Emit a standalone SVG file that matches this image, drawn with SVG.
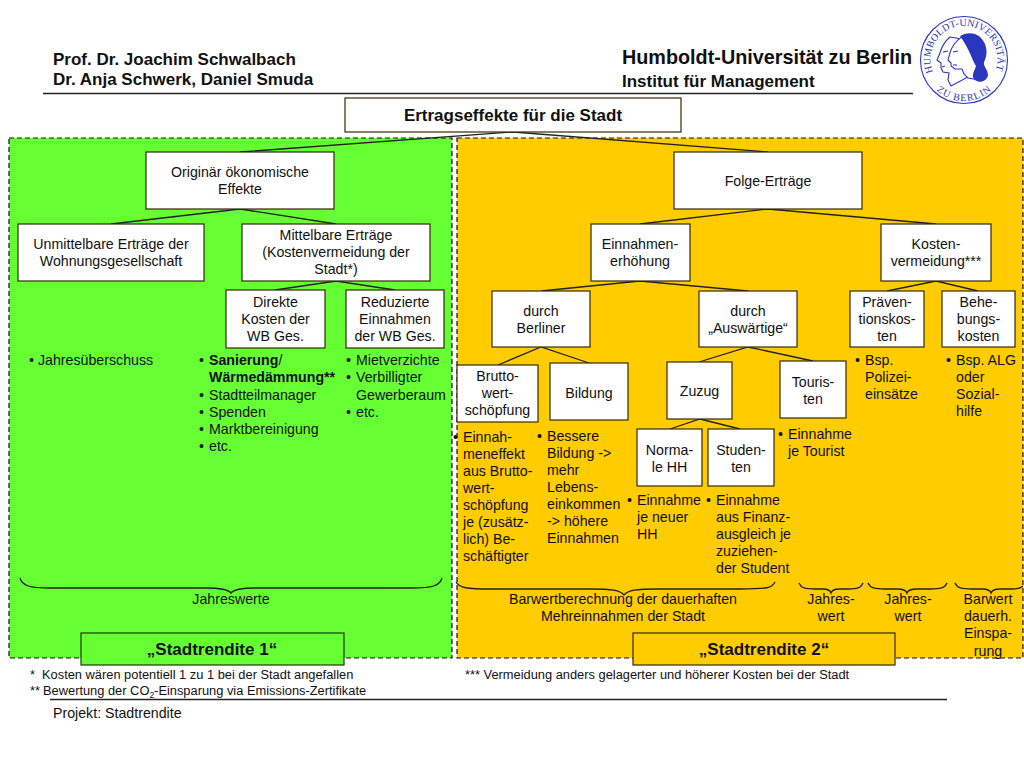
<svg xmlns="http://www.w3.org/2000/svg" width="1024" height="768" viewBox="0 0 1024 768">
<style>
text{font-family:"Liberation Sans",Arial,sans-serif;font-size:14.2px;fill:#111}
.c{text-anchor:middle}
.b{font-weight:bold}
.h{font-weight:bold;font-size:17px}
.s{font-size:12.85px}
.box{fill:#fff;stroke:#332a00;stroke-width:1.2}
.panel{stroke:#111;stroke-width:1.2;stroke-dasharray:5 3}
.ln{fill:none;stroke:#222;stroke-width:1.3}
.seal{fill:#2a35c0;font-family:"Liberation Serif",serif;font-size:10px;letter-spacing:.2px}
.sl{fill:none;stroke:#2a35c0;stroke-width:1.1}
.hd{fill:#fff;stroke:#2a35c0;stroke-width:1.1}
</style>
<rect width="1024" height="768" fill="#fff"/>
<rect id="panel-green" class="panel" x="9" y="138" width="443" height="520" fill="#66ff33"/>
<rect id="panel-orange" class="panel" x="457" y="138" width="566" height="520" fill="#ffcc00"/>
<g id="header">
<text class="b" x="53" y="65" style="font-size:17px">Prof. Dr. Joachim Schwalbach</text>
<text class="b" x="53" y="85" style="font-size:17px">Dr. Anja Schwerk, Daniel Smuda</text>
<text class="b" x="622" y="64" style="font-size:19.8px">Humboldt-Universität zu Berlin</text>
<text class="b" x="622" y="87" style="font-size:17px">Institut für Management</text>
<path class="ln" d="M43 93.500H913"/>
</g>
<g id="seal">
<defs><path id="sealArc" d="M933 72A33.500 33.500 0 1 1 995 72"/><path id="sealArc2" d="M935 89A41 41 0 0 0 993 89"/></defs>
<circle class="sl" cx="964" cy="60" r="43.500"/>
<text class="seal"><textPath href="#sealArc">HUMBOLDT-UNIVERSITÄT</textPath></text>
<text class="seal" style="letter-spacing:1px"><textPath href="#sealArc2" startOffset="2">ZU BERLIN</textPath></text>
<path class="hd" d="M950 37C945 41 941 48 940 53L937 60L941 63L941 68L943 72L949 73L948 80L951 86L968 77L968 40Z"/>
<path class="hd" d="M962 37C956 40 951 48 950 53L948 60L951 63L951 66L955 69L962 69L964 74L968 78L980 80L978 50Z"/>
<path d="M960 36C968 31 980 32 985 44C988 52 986 58 984 62C983 66 988 70 988 75C987 82 978 84 974 79C971 75 975 70 976 66C972 60 970 50 960 36Z" fill="#2a35c0"/>
<path class="sl" d="M943 52L948 51M953 52L958 51M942 67L945 66M953 65L957 65M978 40L982 52M976 70L984 76"/>
</g>
<g id="connectors" class="ln">
<path d="M240 152L513 132L768 152"/>
<path d="M111 224L240 209L336 224"/>
<path d="M640 224L768 209L936 224"/>
<path d="M275 290L336 281L395 290"/>
<path d="M541 291L640 281L748 291"/>
<path d="M887 291L936 281L978 291"/>
<path d="M498 365L541 347L589 363"/>
<path d="M699 362L748 347L813 361"/>
<path d="M670 429L700 419L740 429"/>
<path d="M20 578C22 586 30 588 50 588H205C220 588 228 589 231 593C234 589 242 588 257 588H412C432 588 440 586 442 578"/>
<path d="M456 582C459 588 468 589 490 589H590C612 589 620 590 624 595C628 590 636 589 658 589H740C768 589 772 588 775 582"/>
<path d="M799 583C801 588 805 589 815 589H823C828 589 830 590 831 593C832 590 834 589 839 589H848C857 589 861 588 863 583"/>
<path d="M868 583C870 588 875 589 885 589H897C903 589 906 590 907 593C908 590 911 589 917 589H930C940 589 945 588 947 583"/>
<path d="M955 583C957 588 962 589 972 589H982C987 589 990 590 991 593C992 590 995 589 1000 589H1012C1018 589 1021 588 1023 586"/>
</g>
<g id="n-title"><rect class="box" x="345" y="98" width="336" height="34"/><text class="c h" x="513" y="121">Ertragseffekte für die Stadt</text></g>
<g id="n-originaer"><rect class="box" x="146" y="152" width="188" height="57"/><text class="c" x="240" y="177">Originär ökonomische</text><text class="c" x="240" y="194">Effekte</text></g>
<g id="n-folge"><rect class="box" x="674" y="152" width="188" height="57"/><text class="c" x="768" y="186">Folge-Erträge</text></g>
<g id="n-unmittelbar"><rect class="box" x="18" y="224" width="186" height="57"/><text class="c" x="111" y="249">Unmittelbare Erträge der</text><text class="c" x="111" y="266">Wohnungsgesellschaft</text></g>
<g id="n-mittelbar"><rect class="box" x="242" y="224" width="188" height="57"/><text class="c" x="336" y="240">Mittelbare Erträge</text><text class="c" x="336" y="257">(Kostenvermeidung der</text><text class="c" x="336" y="274">Stadt*)</text></g>
<g id="n-einnahmen"><rect class="box" x="591" y="224" width="99" height="57"/><text class="c" x="640" y="249">Einnahmen-</text><text class="c" x="640" y="266">erhöhung</text></g>
<g id="n-kosten"><rect class="box" x="881" y="224" width="110" height="57"/><text class="c" x="936" y="249">Kosten-</text><text class="c" x="936" y="266">vermeidung***</text></g>
<g id="n-direkte"><rect class="box" x="226" y="290" width="99" height="58"/><text class="c" x="275.500" y="307">Direkte</text><text class="c" x="275.500" y="324">Kosten der</text><text class="c" x="275.500" y="341">WB Ges.</text></g>
<g id="n-reduzierte"><rect class="box" x="346" y="290" width="98" height="58"/><text class="c" x="395" y="307">Reduzierte</text><text class="c" x="395" y="324">Einnahmen</text><text class="c" x="395" y="341">der WB Ges.</text></g>
<g id="n-berliner"><rect class="box" x="492" y="291" width="98" height="56"/><text class="c" x="541" y="316">durch</text><text class="c" x="541" y="333">Berliner</text></g>
<g id="n-auswaertige"><rect class="box" x="699" y="291" width="98" height="56"/><text class="c" x="748" y="316">durch</text><text class="c" x="748" y="333">„Auswärtige“</text></g>
<g id="n-praevention"><rect class="box" x="850" y="291" width="74" height="56"/><text class="c" x="887" y="307">Präven-</text><text class="c" x="887" y="324">tionskos-</text><text class="c" x="887" y="341">ten</text></g>
<g id="n-behebung"><rect class="box" x="942" y="291" width="73" height="56"/><text class="c" x="978.500" y="307">Behe-</text><text class="c" x="978.500" y="324">bungs-</text><text class="c" x="978.500" y="341">kosten</text></g>
<g id="n-brutto"><rect class="box" x="457" y="365" width="81" height="57"/><text class="c" x="497.500" y="381">Brutto-</text><text class="c" x="497.500" y="398">wert-</text><text class="c" x="497.500" y="415">schöpfung</text></g>
<g id="n-bildung"><rect class="box" x="550" y="363" width="78" height="57"/><text class="c" x="589" y="398">Bildung</text></g>
<g id="n-zuzug"><rect class="box" x="667" y="362" width="65" height="57"/><text class="c" x="699.500" y="396">Zuzug</text></g>
<g id="n-touristen"><rect class="box" x="780" y="361" width="66" height="57"/><text class="c" x="813" y="387">Touris-</text><text class="c" x="813" y="404">ten</text></g>
<g id="n-normale"><rect class="box" x="637" y="429" width="65" height="57"/><text class="c" x="669.500" y="455">Norma-</text><text class="c" x="669.500" y="472">le HH</text></g>
<g id="n-studenten"><rect class="box" x="708" y="429" width="66" height="57"/><text class="c" x="741" y="455">Studen-</text><text class="c" x="741" y="472">ten</text></g>
<g id="lists">
<text x="29" y="365">•</text><text x="38" y="365">Jahresüberschuss</text>
<text x="199" y="365">•</text><text class="b" x="209" y="365">Sanierung<tspan font-weight="normal">/</tspan></text>
<text class="b" x="209" y="382">Wärmedämmung**</text>
<text x="199" y="400">•</text><text x="209" y="400">Stadtteilmanager</text>
<text x="199" y="417">•</text><text x="209" y="417">Spenden</text>
<text x="199" y="434">•</text><text x="209" y="434">Marktbereinigung</text>
<text x="199" y="451">•</text><text x="209" y="451">etc.</text>
<text x="346" y="365">•</text><text x="356" y="365">Mietverzichte</text>
<text x="346" y="382">•</text><text x="356" y="382">Verbilligter</text>
<text x="356" y="400">Gewerberaum</text>
<text x="346" y="417">•</text><text x="356" y="417">etc.</text>
<text x="855" y="365">•</text><text x="865" y="365">Bsp.</text><text x="865" y="382">Polizei-</text><text x="865" y="399">einsätze</text>
<text x="946" y="365">•</text><text x="956" y="365">Bsp. ALG</text><text x="956" y="382">oder</text><text x="956" y="399">Sozial-</text><text x="956" y="416">hilfe</text>
<text x="453" y="442">•</text><text x="463" y="442">Einnah-</text><text x="463" y="459">meneffekt</text><text x="463" y="476">aus Brutto-</text><text x="463" y="493">wert-</text><text x="463" y="510">schöpfung</text><text x="463" y="527">je (zusätz-</text><text x="463" y="544">lich) Be-</text><text x="463" y="561">schäftigter</text>
<text x="537" y="441">•</text><text x="547" y="441">Bessere</text><text x="547" y="458">Bildung -&gt;</text><text x="547" y="475">mehr</text><text x="547" y="492">Lebens-</text><text x="547" y="509">einkommen</text><text x="547" y="526">-&gt; höhere</text><text x="547" y="543">Einnahmen</text>
<text x="778" y="439">•</text><text x="788" y="439">Einnahme</text><text x="788" y="456">je Tourist</text>
<text x="627" y="505">•</text><text x="637" y="505">Einnahme</text><text x="637" y="522">je neuer</text><text x="637" y="539">HH</text>
<text x="706" y="505">•</text><text x="716" y="505">Einnahme</text><text x="716" y="522">aus Finanz-</text><text x="716" y="539">ausgleich je</text><text x="716" y="556">zuziehen-</text><text x="716" y="573">der Student</text>
</g>
<g id="brace-labels">
<text class="c" x="231" y="604">Jahreswerte</text>
<text class="c" x="623" y="604">Barwertberechnung der dauerhaften</text><text class="c" x="623" y="621">Mehreinnahmen der Stadt</text>
<text class="c" x="831" y="604">Jahres-</text><text class="c" x="831" y="621">wert</text>
<text class="c" x="908" y="604">Jahres-</text><text class="c" x="908" y="621">wert</text>
<text class="c" x="988" y="604">Barwert</text><text class="c" x="988" y="621">dauerh.</text><text class="c" x="988" y="638">Einspa-</text><text class="c" x="988" y="656">rung</text>
</g>
<g id="n-rendite1"><rect x="81" y="633" width="263" height="32" fill="#66ff33" stroke="#1a3a10" stroke-width="1.200"/><text class="c h" x="212" y="655">„Stadtrendite 1“</text></g>
<g id="n-rendite2"><rect x="633" y="633" width="262" height="32" fill="#ffcc00" stroke="#332a00" stroke-width="1.200"/><text class="c h" x="764" y="655">„Stadtrendite 2“</text></g>
<g id="footer">
<text class="s" x="30" y="679">*<tspan x="42">Kosten wären potentiell 1 zu 1 bei der Stadt angefallen</tspan></text>
<text class="s" x="30" y="695">**<tspan x="43">Bewertung der CO</tspan><tspan dy="3" font-size="8.500px">2</tspan><tspan dy="-3">-Einsparung via Emissions-Zertifikate</tspan></text>
<text class="s" x="465" y="679">*** Vermeidung anders gelagerter und höherer Kosten bei der Stadt</text>
<path class="ln" d="M50 699.500H947"/>
<text x="53" y="718">Projekt: Stadtrendite</text>
</g>
</svg>
